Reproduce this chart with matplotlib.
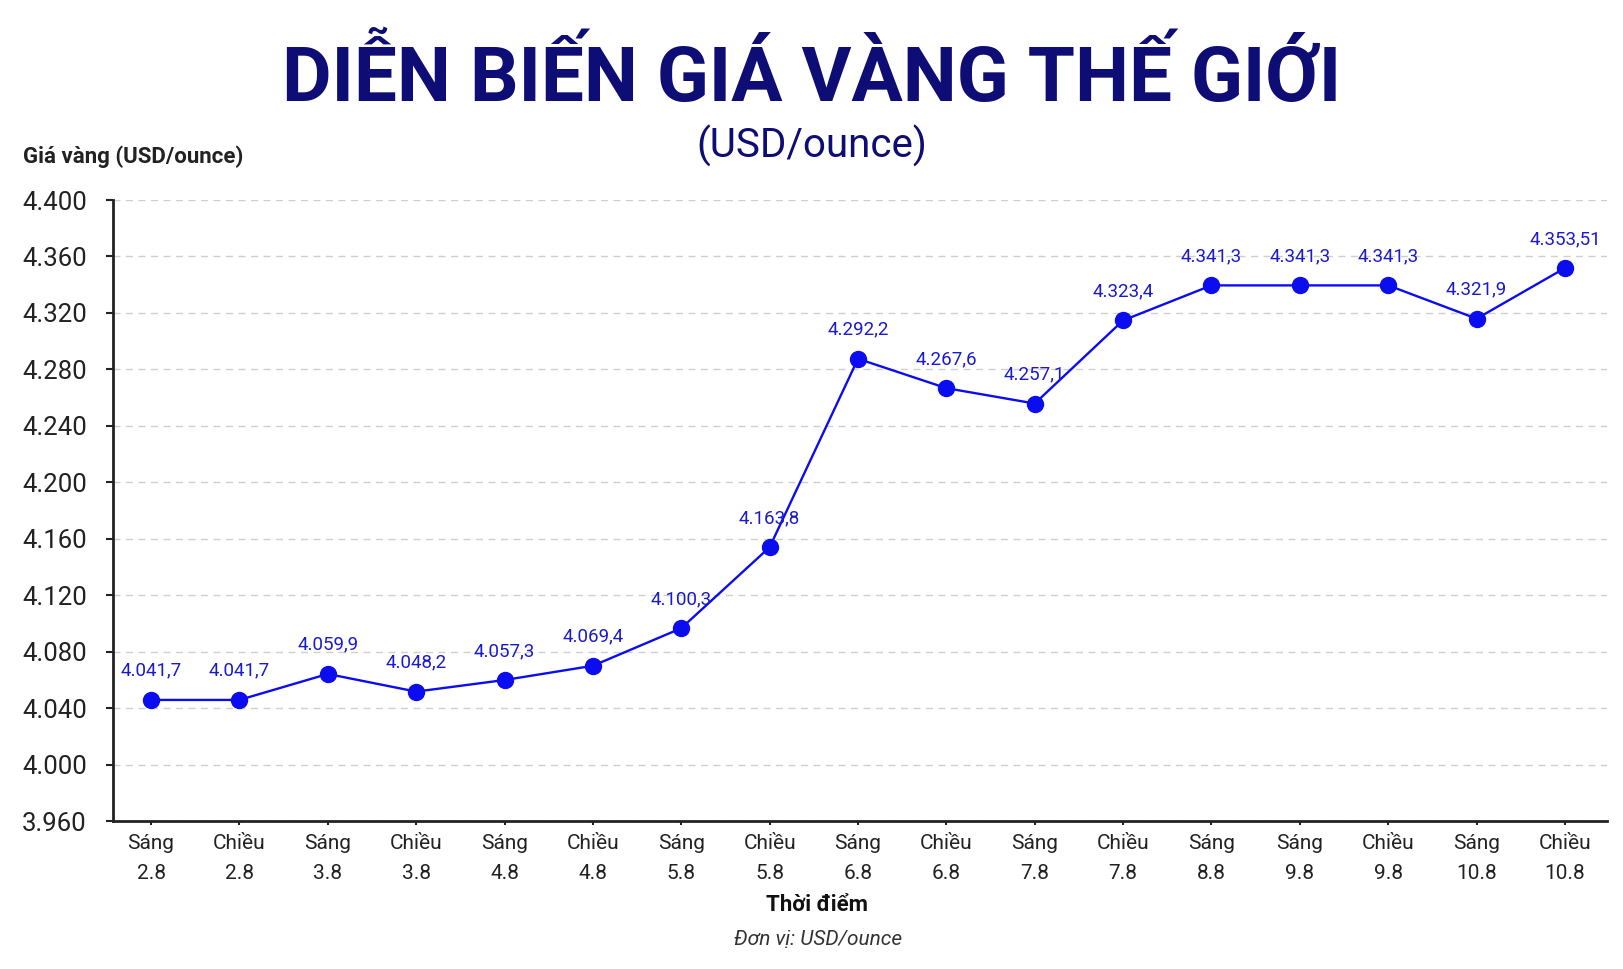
import numpy as np
import matplotlib
matplotlib.use("Agg")
import matplotlib.pyplot as plt

# moments (x categories)
sessions = ["Sáng", "Chiều", "Sáng", "Chiều", "Sáng", "Chiều", "Sáng", "Chiều", "Sáng",
            "Chiều", "Sáng", "Chiều", "Sáng", "Sáng", "Chiều", "Sáng", "Chiều"]
days = ["2.8", "2.8", "3.8", "3.8", "4.8", "4.8", "5.8", "5.8", "6.8",
        "6.8", "7.8", "7.8", "8.8", "9.8", "9.8", "10.8", "10.8"]

price_pts = [4045.8, 4045.8, 4064.2, 4051.7, 4059.9, 4070.0, 4096.6, 4154.0, 4287.5,
             4266.7, 4255.8, 4314.7, 4339.5, 4339.5, 4339.5, 4315.9, 4351.8]
# numbers printed above the dots
price_labels = ["4.041,7", "4.041,7", "4.059,9", "4.048,2", "4.057,3", "4.069,4", "4.100,3",
                "4.163,8", "4.292,2", "4.267,6", "4.257,1", "4.323,4", "4.341,3", "4.341,3",
                "4.341,3", "4.321,9", "4.353,51"]

y_ticks = np.arange(3960, 4401, 40)
y_tick_labels = [f"{v:,}".replace(",", ".") for v in y_ticks]

plt.rcParams['font.family'] = ['Roboto', 'DejaVu Sans']

blue = '#0c0cf0'
navy = '#0d0d75'
dark = '#222222'

fig = plt.figure(figsize=(16.24, 9.69), dpi=100)
ax = fig.add_axes([0.0696, 0.1527, 0.9199, 0.6409])

x = np.arange(len(sessions))
ax.plot(x, price_pts, color=blue, lw=1.7, marker='o', ms=11.5, zorder=3)

for xi, yi, lab in zip(x, price_pts, price_labels):
    ax.annotate(lab, (xi, yi), xytext=(0, 21), textcoords='offset points',
                ha='center', va='center', fontsize=13.5, color='#1a1ad0')

ax.set_xlim(-0.43, 16.475)
ax.set_ylim(3960, 4400)
ax.set_yticks(y_ticks)
ax.set_yticklabels(y_tick_labels)
ax.set_xticks(x)
ax.set_xticklabels([f"{s}\n{d}" for s, d in zip(sessions, days)], linespacing=1.75)

ax.tick_params(axis='y', length=5, width=1.5, color=dark, pad=14, labelsize=18.5,
               labelcolor=dark)
ax.tick_params(axis='x', length=3, width=1.5, color=dark, pad=6, labelsize=15,
               labelcolor=dark)

ax.grid(axis='y', color='#cfcfcf', ls=(0, (5, 4)), lw=1.0)
ax.set_axisbelow(True)
for side in ['top', 'right']:
    ax.spines[side].set_visible(False)
for side in ['left', 'bottom']:
    ax.spines[side].set_color(dark)
    ax.spines[side].set_linewidth(2)

fig.text(0.5, 0.8958, "DIỄN BIẾN GIÁ VÀNG THẾ GIỚI", ha='center', va='baseline',
         fontsize=55, fontweight='bold', color=navy)
fig.text(0.5, 0.837, "(USD/ounce)", ha='center', va='baseline', fontsize=29, color=navy)
fig.text(0.0142, 0.8318, "Giá vàng (USD/ounce)", ha='left', va='baseline',
         fontsize=16, fontweight='bold', color=dark)
fig.text(0.503, 0.0599, "Thời điểm", ha='center', va='baseline',
         fontsize=16, fontweight='bold', color='#111111')
fig.text(0.504, 0.0248, "Đơn vị: USD/ounce", ha='center', va='baseline',
         fontsize=15, style='italic', color='#333333')

fig.savefig("out.png", dpi=100, facecolor='white')
